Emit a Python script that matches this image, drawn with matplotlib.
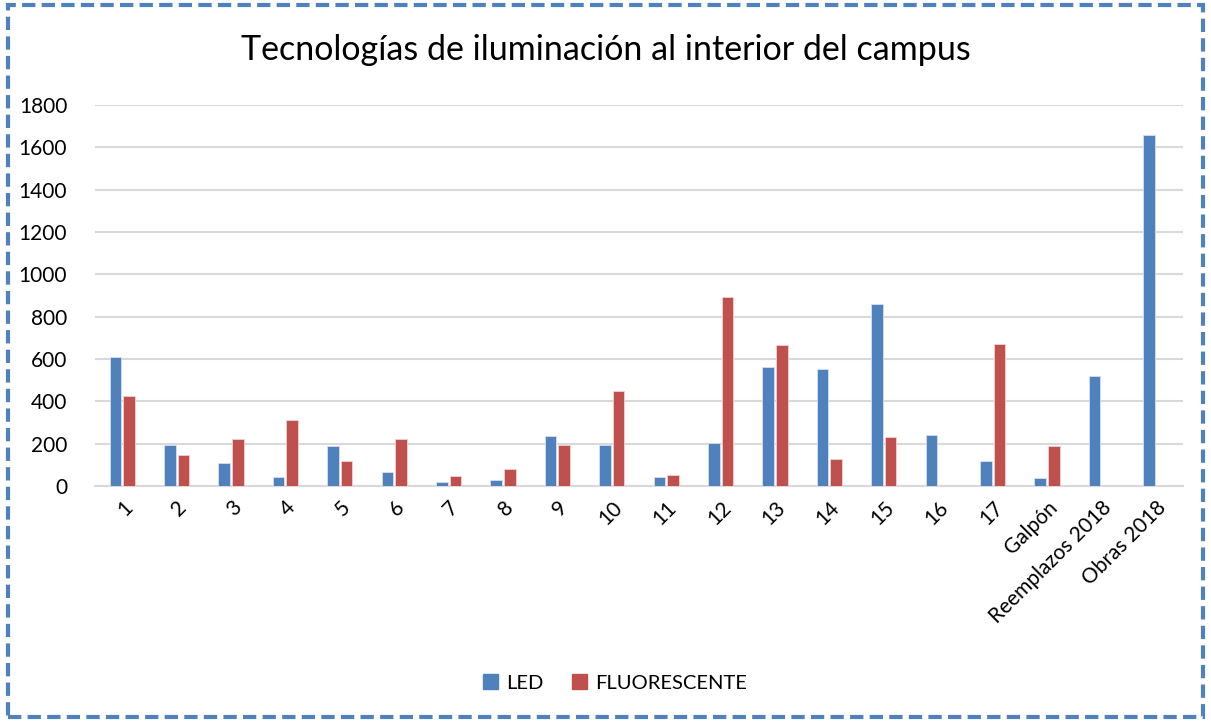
import matplotlib.pyplot as plt
import matplotlib.patches as mpatches
import numpy as np

plt.rcParams['font.family'] = ['Lato', 'DejaVu Sans']

categorias = ['1', '2', '3', '4', '5', '6', '7', '8', '9', '10', '11', '12',
              '13', '14', '15', '16', '17', 'Galpón', 'Reemplazos 2018', 'Obras 2018']
led = [610, 194, 107, 42, 189, 67, 21, 27, 235, 194, 44, 205,
       562, 551, 860, 243, 120, 36, 520, 1658]
fluorescente = [425, 145, 221, 313, 116, 221, 48, 80, 194, 447, 54, 892,
                664, 129, 230, 0, 673, 188, 0, 0]

fig = plt.figure(figsize=(12.11, 7.21), dpi=100)
ax = fig.add_axes([95 / 1211, 1 - 486 / 721, (1183 - 95) / 1211, (486 - 105) / 721])

x = np.arange(len(categorias))
w = 0.21
ax.bar(x - 0.125, led, w, color='#4F81BD', edgecolor='#D6E0EE', linewidth=0.6, label='LED', zorder=3)
ax.bar(x + 0.125, fluorescente, w, color='#C0504D', edgecolor='#EED3D2', linewidth=0.6, label='FLUORESCENTE', zorder=3)

ax.set_xlim(-0.5, len(categorias) - 0.5)
ax.set_ylim(0, 1800)
ax.set_yticks(range(0, 1801, 200))
ax.yaxis.grid(True, color='#D9D9D9', linewidth=1.5, zorder=0)
for s in ['top', 'right', 'left']:
    ax.spines[s].set_visible(False)
ax.spines['bottom'].set_color('#D9D9D9')
ax.spines['bottom'].set_linewidth(1.5)
ax.tick_params(axis='both', length=0, labelsize=15, colors='black')
ax.tick_params(axis='y', pad=20)
ax.tick_params(axis='x', pad=8)
ax.set_xticks(x)
ax.set_xticklabels(categorias, rotation=45, ha='right', rotation_mode='anchor')

fig.text(0.5, 1 - 50 / 721, 'Tecnologías de iluminación al interior del campus',
         ha='center', va='center', fontsize=24.5)

handles = [mpatches.Patch(color='#4F81BD', label='LED'),
           mpatches.Patch(color='#C0504D', label='FLUORESCENTE')]
fig.legend(handles=handles, loc='center', bbox_to_anchor=(0.508, 1 - 683 / 721),
           ncol=2, frameon=False, fontsize=14.5, handlelength=0.75, handleheight=0.75,
           columnspacing=1.4, handletextpad=0.4)

border = mpatches.Rectangle((8 / 1211, 4 / 721), 1195 / 1211, 712 / 721,
                            transform=fig.transFigure, fill=False,
                            edgecolor='#4F81BD', linewidth=3, linestyle=(0, (3.2, 1.5)))
fig.patches.append(border)

fig.savefig('out.png', dpi=100)
